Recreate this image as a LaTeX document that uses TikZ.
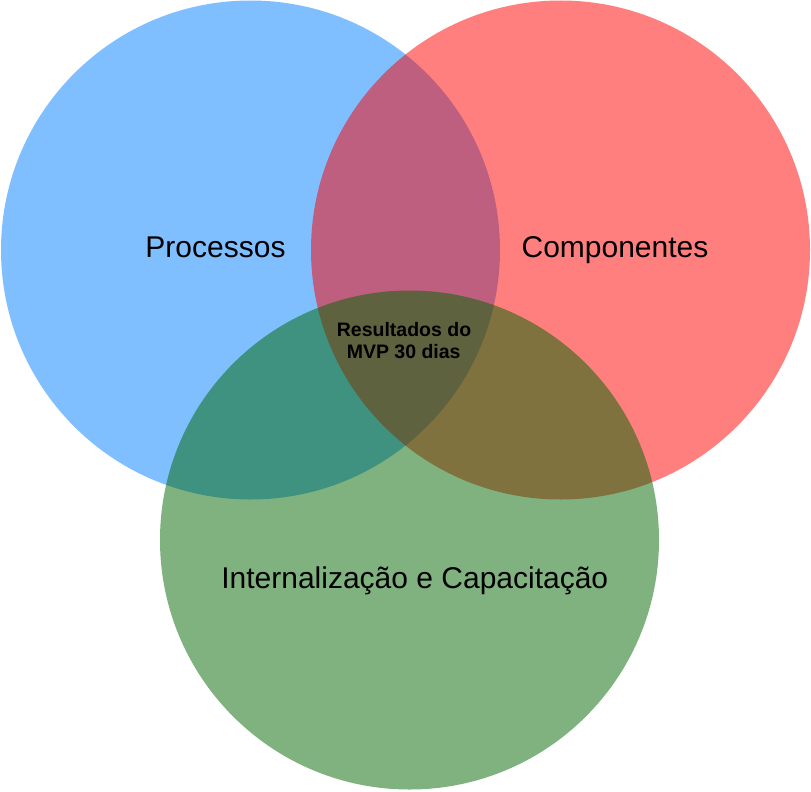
\documentclass[tikz,border=0pt]{standalone}
\usepackage{fontspec}
\setmainfont{Liberation Sans}
\definecolor{vblue}{RGB}{0,127,255}
\definecolor{vred}{RGB}{255,0,0}
\definecolor{vgreen}{RGB}{0,102,0}
\begin{document}
\begin{tikzpicture}[x=1pt,y=-1pt,
  venn/.style={fill opacity=0.5, draw=none},
  biglabel/.style={anchor=base, inner sep=0pt, font=\fontsize{30}{36}\selectfont, text=black},
  smalllabel/.style={anchor=base, inner sep=0pt, font=\bfseries\fontsize{19.5}{22}\selectfont, text=black, align=center}]
\useasboundingbox (0,0) rectangle (811,792);
\fill[venn, vblue] (250.5,250) circle[radius=249.5pt];
\fill[venn, vred] (560.5,250) circle[radius=249.5pt];
\fill[venn, vgreen] (409.5,540) circle[radius=249.5pt];
\node[biglabel] (proc) at (215.5,257.7) {Processos};
\node[biglabel] (comp) at (615,257.7) {Componentes};
\node[biglabel] (intern) at (414.8,588.3) {Internalização e Capacitação};
\node[anchor=base, inner sep=0pt, font=\bfseries\fontsize{19.5}{22}\selectfont] (res1) at (404,336.7) {Resultados do};
\node[anchor=base, inner sep=0pt, font=\bfseries\fontsize{19.5}{22}\selectfont] (res2) at (403.7,358) {MVP 30 dias};
\end{tikzpicture}
\end{document}
